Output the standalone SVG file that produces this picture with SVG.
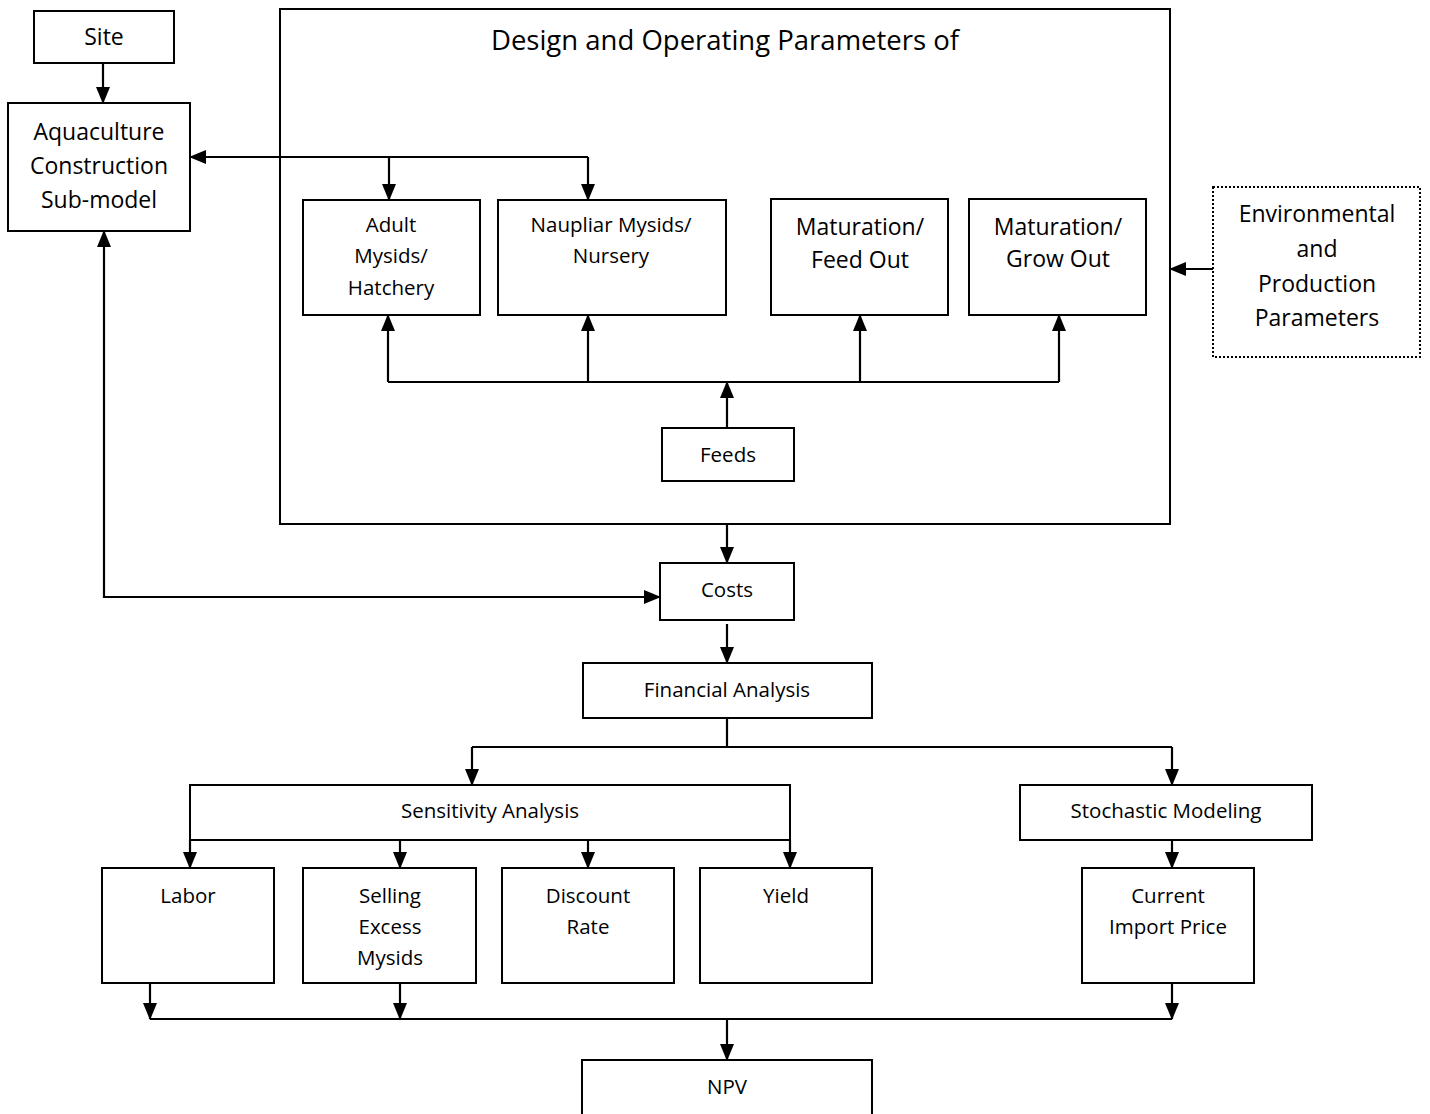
<svg xmlns="http://www.w3.org/2000/svg" width="1430" height="1114" viewBox="0 0 1430 1114">
<style>
.box{fill:#fff;stroke:#000;stroke-width:2}
.dot{fill:#fff;stroke:#000;stroke-width:2;stroke-dasharray:2,2}
.ln{fill:none;stroke:#000;stroke-width:2.2}
text{font-family:"Open Sans","Noto Sans","Liberation Sans",sans-serif;fill:#000;text-anchor:middle}
.s{font-size:20.5px}
.m{font-size:23px}
.l{font-size:27.5px}
</style>
<defs>
<marker id="ah" markerUnits="userSpaceOnUse" markerWidth="17" markerHeight="14" refX="16" refY="7" orient="auto-start-reverse" viewBox="0 0 17 14">
<path d="M0,0 L17,7 L0,14 z" fill="#000"/>
</marker>
</defs>
<rect width="1430" height="1114" fill="#fff"/>
<g id="big"><rect class="box" x="280" y="9" width="890" height="515"/><text class="l" x="725" y="50">Design and Operating Parameters of</text></g>
<g id="site"><rect class="box" x="34" y="11" width="140" height="52"/><text class="m" x="104" y="45">Site</text></g>
<g id="aqua"><rect class="box" x="8" y="103" width="182" height="128"/><text class="m" x="99" y="140">Aquaculture</text><text class="m" x="99" y="174">Construction</text><text class="m" x="99" y="208">Sub-model</text></g>
<g id="adult"><rect class="box" x="303" y="200" width="177" height="115"/><text class="s" x="391" y="232">Adult</text><text class="s" x="391" y="263">Mysids/</text><text class="s" x="391" y="295">Hatchery</text></g>
<g id="naup"><rect class="box" x="498" y="200" width="228" height="115"/><text class="s" x="611" y="232">Naupliar Mysids/</text><text class="s" x="611" y="263">Nursery</text></g>
<g id="matfeed"><rect class="box" x="771" y="199" width="177" height="116"/><text class="m" x="860" y="235">Maturation/</text><text class="m" x="860" y="268">Feed Out</text></g>
<g id="matgrow"><rect class="box" x="969" y="199" width="177" height="116"/><text class="m" x="1058" y="235">Maturation/</text><text class="m" x="1058" y="267">Grow Out</text></g>
<g id="env"><rect class="dot" x="1213" y="187" width="207" height="170"/><text class="m" x="1317" y="222">Environmental</text><text class="m" x="1317" y="257">and</text><text class="m" x="1317" y="292">Production</text><text class="m" x="1317" y="326">Parameters</text></g>
<g id="feeds"><rect class="box" x="662" y="428" width="132" height="53"/><text class="s" x="728" y="462">Feeds</text></g>
<g id="costs"><rect class="box" x="660" y="563" width="134" height="57"/><text class="s" x="727" y="597">Costs</text></g>
<g id="fin"><rect class="box" x="583" y="663" width="289" height="55"/><text class="s" x="727" y="697">Financial Analysis</text></g>
<g id="sens"><rect class="box" x="190" y="785" width="600" height="55"/><text class="s" x="490" y="818">Sensitivity Analysis</text></g>
<g id="stoch"><rect class="box" x="1020" y="785" width="292" height="55"/><text class="s" x="1166" y="818">Stochastic Modeling</text></g>
<g id="labor"><rect class="box" x="102" y="868" width="172" height="115"/><text class="s" x="188" y="903">Labor</text></g>
<g id="selling"><rect class="box" x="303" y="868" width="173" height="115"/><text class="s" x="390" y="903">Selling</text><text class="s" x="390" y="934">Excess</text><text class="s" x="390" y="965">Mysids</text></g>
<g id="discount"><rect class="box" x="502" y="868" width="172" height="115"/><text class="s" x="588" y="903">Discount</text><text class="s" x="588" y="934">Rate</text></g>
<g id="yield"><rect class="box" x="700" y="868" width="172" height="115"/><text class="s" x="786" y="903">Yield</text></g>
<g id="current"><rect class="box" x="1082" y="868" width="172" height="115"/><text class="s" x="1168" y="903">Current</text><text class="s" x="1168" y="934">Import Price</text></g>
<g id="npv"><rect class="box" x="582" y="1060" width="290" height="60"/><text class="s" x="727" y="1094">NPV</text></g>
<g id="connectors">
<path class="ln" d="M103,63 L103,103" marker-end="url(#ah)"/>
<path class="ln" d="M588,157 L190,157" marker-end="url(#ah)"/>
<path class="ln" d="M389,157 L389,200" marker-end="url(#ah)"/>
<path class="ln" d="M588,157 L588,200" marker-end="url(#ah)"/>
<path class="ln" d="M388,382 L1059,382"/>
<path class="ln" d="M388,382 L388,315" marker-end="url(#ah)"/>
<path class="ln" d="M588,382 L588,315" marker-end="url(#ah)"/>
<path class="ln" d="M860,382 L860,315" marker-end="url(#ah)"/>
<path class="ln" d="M1059,382 L1059,315" marker-end="url(#ah)"/>
<path class="ln" d="M727,428 L727,382" marker-end="url(#ah)"/>
<path class="ln" d="M1213,269 L1170,269" marker-end="url(#ah)"/>
<path class="ln" d="M727,524 L727,563" marker-end="url(#ah)"/>
<path class="ln" d="M104,231 L104,597 L660,597" marker-start="url(#ah)" marker-end="url(#ah)"/>
<path class="ln" d="M727,624 L727,663" marker-end="url(#ah)"/>
<path class="ln" d="M727,718 L727,747"/>
<path class="ln" d="M472,747 L1172,747"/>
<path class="ln" d="M472,747 L472,785" marker-end="url(#ah)"/>
<path class="ln" d="M1172,747 L1172,785" marker-end="url(#ah)"/>
<path class="ln" d="M190,840 L190,868" marker-end="url(#ah)"/>
<path class="ln" d="M400,840 L400,868" marker-end="url(#ah)"/>
<path class="ln" d="M588,840 L588,868" marker-end="url(#ah)"/>
<path class="ln" d="M790,840 L790,868" marker-end="url(#ah)"/>
<path class="ln" d="M1172,840 L1172,868" marker-end="url(#ah)"/>
<path class="ln" d="M150,983 L150,1019" marker-end="url(#ah)"/>
<path class="ln" d="M400,983 L400,1019" marker-end="url(#ah)"/>
<path class="ln" d="M1172,983 L1172,1019" marker-end="url(#ah)"/>
<path class="ln" d="M150,1019 L1172,1019"/>
<path class="ln" d="M727,1019 L727,1060" marker-end="url(#ah)"/>
</g>
</svg>
